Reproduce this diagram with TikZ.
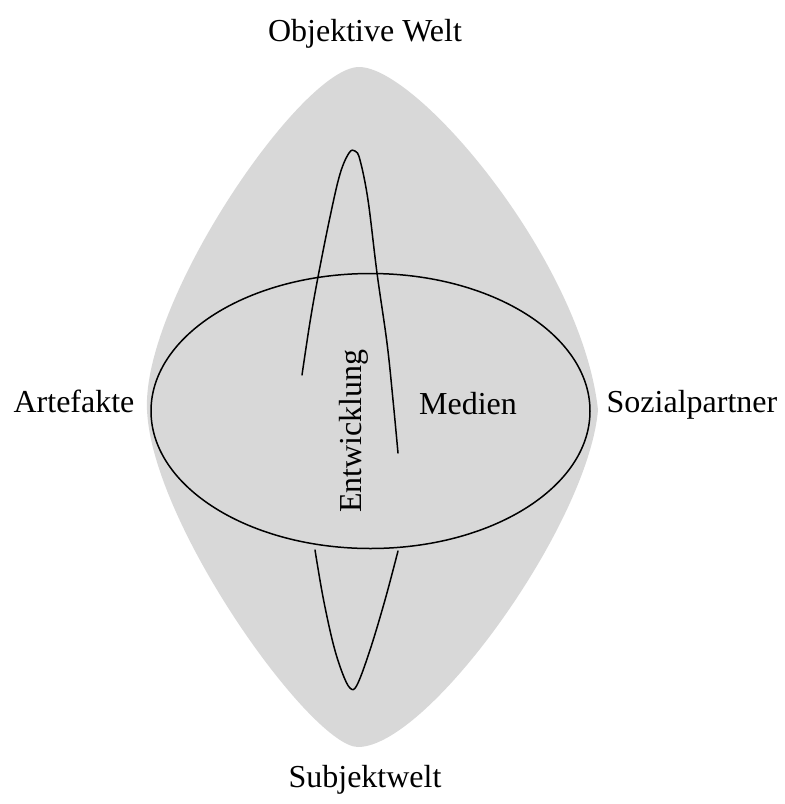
\documentclass[tikz,border=0pt]{standalone}
\usepackage{fontspec}
\setmainfont{Liberation Serif}
\begin{document}
\begin{tikzpicture}[x=0.5pt,y=-0.5pt,
  lbl/.style={inner sep=0pt,font=\fontsize{16}{19}\selectfont},
  stroke/.style={draw=black,line width=0.75pt,line cap=round,line join=round}]
\definecolor{lensgray}{RGB}{216,216,216}
\useasboundingbox (0,0) rectangle (784,804);
% grey lens-shaped field
\fill[lensgray] (359,67)
  .. controls (418,67) and (582,262) .. (598,410)
  .. controls (588,525) and (428,747) .. (358,747)
  .. controls (312,747) and (152,525) .. (147,410)
  .. controls (142,300) and (302,67) .. cycle;
% central ellipse
\draw[stroke] (370.5,411) ellipse [x radius=219.5, y radius=137.5];
% development loops above and below
\draw[stroke] plot[smooth,tension=0.6] coordinates {
  (302,375) (310,322) (318,277) (330,217) (340,174) (349,153) (355,151)
  (360,160) (368,200) (377,273) (387,343) (393,400) (398,453)};
\draw[stroke] plot[smooth,tension=0.6] coordinates {
  (315,550) (323,597) (333,643) (342,672) (350,688) (357,685) (370,650)
  (385,600) (398,551)};
% labels
\node[lbl,anchor=base] (obj) at (365,41) {Objektive Welt};
\node[lbl,anchor=base] (subj) at (365,787) {Subjektwelt};
\node[lbl,anchor=base] (art) at (74,412) {Artefakte};
\node[lbl,anchor=base] (soz) at (692,412) {Sozialpartner};
\node[lbl,anchor=base] (med) at (468,414) {Medien};
\node[lbl,anchor=base,rotate=90] (ent) at (361,431) {Entwicklung};
\end{tikzpicture}
\end{document}
